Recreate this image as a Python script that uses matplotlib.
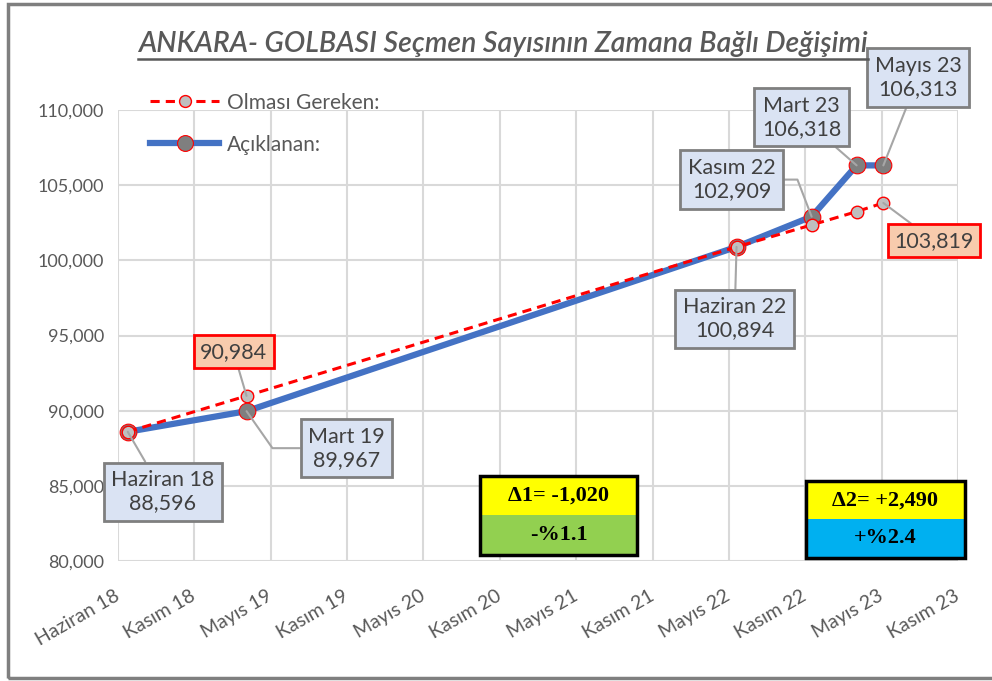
import numpy as np
import matplotlib.pyplot as plt
from matplotlib.patches import Rectangle
from matplotlib.lines import Line2D
from matplotlib.ticker import FuncFormatter

plt.rcParams['font.family'] = ['Lato', 'DejaVu Sans']

# veriler
tarihler = np.array(['2018-06-24', '2019-03-31', '2022-05-29',
                     '2022-11-22', '2023-03-08', '2023-05-10'], dtype='datetime64[D]')
aciklanan = [88596, 89967, 100894, 102909, 106318, 106313]
olmasi_gereken = [88596, 90984, 100894, 102355, 103240, 103819]
nokta_adlari = ['Haziran 18', 'Mart 19', 'Haziran 22', 'Kasım 22', 'Mart 23', 'Mayıs 23']
tick_etiketleri = ['Haziran 18', 'Kasım 18', 'Mayıs 19', 'Kasım 19', 'Mayıs 20', 'Kasım 20',
                   'Mayıs 21', 'Kasım 21', 'Mayıs 22', 'Kasım 22', 'Mayıs 23', 'Kasım 23']
delta1 = ['\u03941= -1,020', '-%1.1']
delta2 = ['\u03942= +2,490', '+%2.4']

GRI = '#595959'

fig = plt.figure(figsize=(9.92, 6.81), dpi=100)
ax = fig.add_axes([118/992, 1-561/681, 840/992, 451/681])

# dış çerçeve
fig.patches.append(Rectangle((8/992, 3/681), 1.2, 674/681, transform=fig.transFigure,
                             fill=False, ec='#7f7f7f', lw=2.5))

tick_tarihleri = np.datetime64('2018-06-01') + np.arange(len(tick_etiketleri)) * 180

# eğriler
ax.plot(tarihler, aciklanan, color='#4472c4', lw=4.5, marker='o', ms=12,
        mfc='#7f7f7f', mec='#ff0000', mew=0.8, zorder=3, label='Açıklanan:')
ax.plot(tarihler, olmasi_gereken, color='#ff0000', lw=2.2, ls=(0, (3, 2)), marker='o', ms=9,
        mfc='#bfbfbf', mec='#ff0000', mew=1.0, zorder=4, label='Olması Gereken:')

ax.set_xlim(tick_tarihleri[0], tick_tarihleri[-1])
ax.set_ylim(80000, 110000)
ax.set_xticks(tick_tarihleri)
ax.set_xticklabels(tick_etiketleri, rotation=30, ha='right', va='center',
                   rotation_mode='anchor', fontsize=14, color=GRI)
ax.set_yticks(np.arange(80000, 110001, 5000))
ax.yaxis.set_major_formatter(FuncFormatter(lambda v, p: f'{int(v):,}'))
ax.tick_params(axis='y', labelsize=13, labelcolor=GRI, length=0, pad=10)
ax.tick_params(axis='x', length=0, pad=24)
ax.grid(True, color='#d9d9d9', lw=1.5)
ax.set_axisbelow(True)
for s in ax.spines.values():
    s.set_visible(False)

# etiketler
mavi_kutu = dict(boxstyle='square,pad=0.35', fc='#dae3f3', ec='#7f7f7f', lw=2)
turuncu_kutu = dict(boxstyle='square,pad=0.3', fc='#f8cbad', ec='#ff0000', lw=2)
ofsetler = [(35, -60), (100, -37), (-2, -72), (-80, 37), (-55, 48), (35, 88)]
baglantilar = ['arc3', 'angle,angleA=0,angleB=-55,rad=0', 'arc3',
               'angle,angleA=0,angleB=111,rad=0', 'arc3', 'arc3']
for t, v, ad, of, bg in zip(tarihler, aciklanan, nokta_adlari, ofsetler, baglantilar):
    ax.annotate(f'{ad}\n{v:,}', xy=(t, v), xytext=of, textcoords='offset pixels',
                ha='center', va='center', fontsize=15.5, color='#404040', linespacing=1.2,
                bbox=mavi_kutu, annotation_clip=False, zorder=6,
                arrowprops=dict(arrowstyle='-', color='#a6a6a6', lw=1.5, shrinkA=0,
                                shrinkB=0, connectionstyle=bg))

for i, of in [(1, (-13, 44)), (5, (51, -38))]:
    ax.annotate(f'{olmasi_gereken[i]:,}', xy=(tarihler[i], olmasi_gereken[i]), xytext=of,
                textcoords='offset pixels', ha='center', va='center', fontsize=15.5,
                color='#404040', bbox=turuncu_kutu, annotation_clip=False, zorder=6,
                arrowprops=dict(arrowstyle='-', color='#a6a6a6', lw=1.5, shrinkA=0, shrinkB=0))

# lejant
h, l = ax.get_legend_handles_labels()
leg = ax.legend(h[::-1], l[::-1], loc='upper left', bbox_to_anchor=(0.016, 1.08), frameon=False,
                fontsize=15, handlelength=3.3, labelspacing=1.05, handletextpad=0.4,
                markerscale=0.95)
for tx in leg.get_texts():
    tx.set_color(GRI)


# delta kutuları
def delta_kutu(x0, x1, y0, ym, y1, metin, renk_alt):
    ax.add_patch(Rectangle((x0, ym), x1-x0, y1-ym, transform=ax.transAxes, fc='#ffff00',
                           ec='none', zorder=7, clip_on=False))
    ax.add_patch(Rectangle((x0, y0), x1-x0, ym-y0, transform=ax.transAxes, fc=renk_alt,
                           ec='none', zorder=7, clip_on=False))
    ax.add_patch(Rectangle((x0, y0), x1-x0, y1-y0, transform=ax.transAxes, fill=False,
                           ec='black', lw=2.5, zorder=8, clip_on=False))
    for m, yy in zip(metin, [(ym+y1)/2, (y0+ym)/2]):
        ax.text((x0+x1)/2, yy, m, transform=ax.transAxes, ha='center', va='center',
                fontsize=16, fontweight='bold', family=['Liberation Serif', 'DejaVu Serif'],
                zorder=9)


delta_kutu(0.431, 0.618, 0.013, 0.102, 0.188, delta1, '#92d050')
delta_kutu(0.819, 1.008, 0.007, 0.093, 0.177, delta2, '#00b0f0')

# başlık
baslik = fig.text(0.507, 0.935, 'ANKARA- GOLBASI Seçmen Sayısının Zamana Bağlı Değişimi',
                  ha='center', va='center', fontsize=20.5, style='italic', fontweight='semibold',
                  color=GRI)
fig.canvas.draw()
bb = baslik.get_window_extent().transformed(fig.transFigure.inverted())
fig.add_artist(Line2D([bb.x0, bb.x1], [bb.y0 - 0.003, bb.y0 - 0.003], color=GRI, lw=1.8,
                      transform=fig.transFigure))

fig.savefig('out.png', dpi=100)
